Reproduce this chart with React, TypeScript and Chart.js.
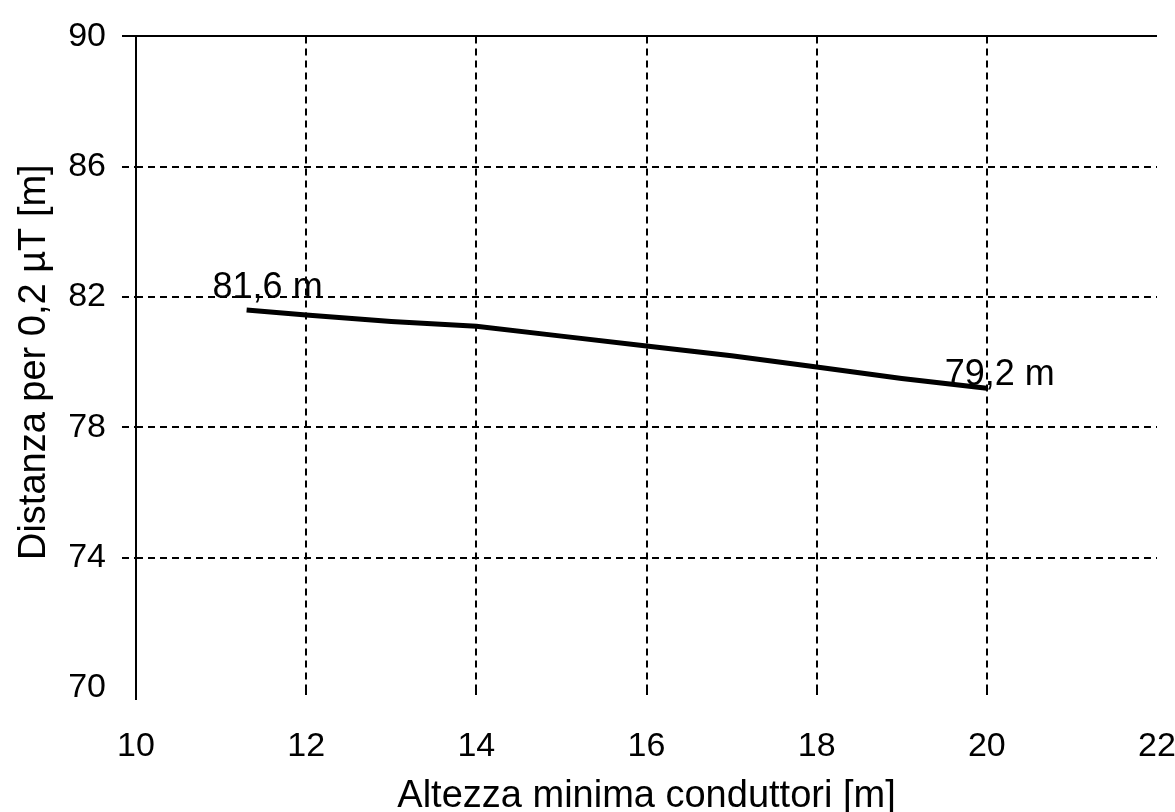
import { useEffect, useRef } from "react";
import { Chart, registerables } from "chart.js";

Chart.register(...registerables);

// Data
const heights = [11.3, 12, 13, 14, 15, 16, 17, 18, 19, 20];
const distances = [81.6, 81.45, 81.25, 81.1, 80.8, 80.5, 80.2, 79.85, 79.5, 79.2];
const xTickValues = [10, 12, 14, 16, 18, 20, 22];
const yTickValues = [70, 74, 78, 82, 86, 90];
const xTitle = "Altezza minima conduttori [m]";
const yTitle = "Distanza per 0,2 µT [m]";

const FONT = "'Liberation Sans', Arial, Helvetica, sans-serif";
const DASH = [7, 5];

const fmt = (v: number) => `${String(v).replace(".", ",")} m`;

const endLabels = {
  id: "endLabels",
  afterDatasetsDraw(chart: any) {
    const meta = chart.getDatasetMeta(0);
    const pts = meta.data;
    if (!pts || pts.length < 2) return;
    const ctx = chart.ctx;
    ctx.save();
    ctx.fillStyle = "#000";
    ctx.font = `36px ${FONT}`;
    ctx.textAlign = "center";
    ctx.textBaseline = "alphabetic";
    const first = pts[0];
    const last = pts[pts.length - 1];
    ctx.fillText(fmt(distances[0]), first.x + 21, first.y - 12);
    ctx.fillText(fmt(distances[distances.length - 1]), last.x + 13, last.y - 3);
    ctx.restore();
  },
};

export default function App() {
  const ref = useRef<HTMLCanvasElement | null>(null);

  useEffect(() => {
    if (!ref.current) return;
    const chart = new Chart(ref.current, {
      type: "line",
      data: {
        datasets: [
          {
            data: heights.map((h, i) => ({ x: h, y: distances[i] })),
            borderColor: "#000",
            borderWidth: 5,
            pointRadius: 0,
            tension: 0,
            fill: false,
          },
        ],
      },
      options: {
        animation: false,
        responsive: false,
        events: [],
        layout: { padding: { top: 36, right: 18, left: 0, bottom: 0 } },
        plugins: {
          legend: { display: false },
          tooltip: { enabled: false },
          title: { display: false },
        },
        scales: {
          x: {
            type: "linear",
            min: 10,
            max: 22,
            afterBuildTicks: (scale: any) => {
              scale.ticks = xTickValues.map((v) => ({ value: v }));
            },
            afterFit: (scale: any) => {
              scale.height = 124;
              scale.paddingLeft = 0;
              scale.paddingRight = 0;
            },
            ticks: {
              color: "#000",
              font: { family: FONT, size: 34 },
              padding: 26,
              maxRotation: 0,
              autoSkip: false,
            },
            grid: {
              color: (c: any) => (c.tick && c.tick.value === 22 ? "rgba(0,0,0,0)" : "#000"),
              lineWidth: 2,
              tickLength: 12,
              tickBorderDash: (c: any) => (c.tick && c.tick.value === 10 ? [] : DASH),
            },
            border: {
              display: false,
              dash: (c: any) => (c.tick && c.tick.value === 10 ? [] : DASH),
            },
            title: {
              display: true,
              text: xTitle,
              color: "#000",
              font: { family: FONT, size: 38, lineHeight: 0.8 },
              padding: { top: 0, bottom: 0 },
            },
          },
          y: {
            type: "linear",
            min: 70,
            max: 90,
            afterBuildTicks: (scale: any) => {
              scale.ticks = yTickValues.map((v) => ({ value: v }));
            },
            afterFit: (scale: any) => {
              scale.width = 136;
            },
            ticks: {
              color: "#000",
              font: { family: FONT, size: 34 },
              padding: 16,
            },
            grid: {
              color: (c: any) => (c.tick && c.tick.value === 70 ? "rgba(0,0,0,0)" : "#000"),
              lineWidth: 2,
              tickLength: 14,
              tickBorderDash: (c: any) => (c.tick && c.tick.value === 90 ? [] : DASH),
            },
            border: {
              display: false,
              dash: (c: any) => (c.tick && c.tick.value === 90 ? [] : DASH),
            },
            title: {
              display: true,
              text: yTitle,
              color: "#000",
              font: { family: FONT, size: 38, lineHeight: 1 },
              padding: { top: 16, bottom: 0 },
            },
          },
        },
      },
      plugins: [endLabels],
    } as any);
    return () => chart.destroy();
  }, []);

  return (
    <div style={{ position: "absolute", left: 0, top: 0, width: 1175, height: 812, background: "#fff" }}>
      <canvas ref={ref} width={1175} height={812} style={{ display: "block" }} />
    </div>
  );
}
